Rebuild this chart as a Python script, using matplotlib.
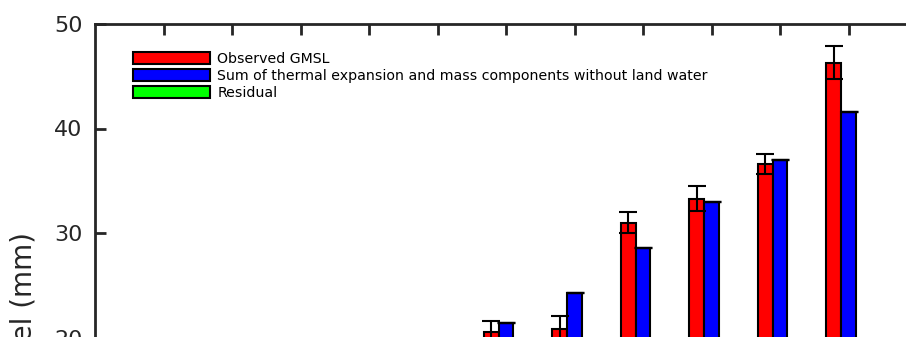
import matplotlib
matplotlib.use("Agg")
import matplotlib.pyplot as plt
import numpy as np

# group positions (only the upper part of the panel is in view)
groups = [6, 7, 8, 9, 10, 11]
obs_gmsl = [20.5, 20.8, 31.0, 33.3, 36.6, 46.3]
obs_err = [1.1, 1.3, 1.0, 1.2, 1.0, 1.6]
sum_comp = [21.4, 24.3, 28.6, 33.0, 37.0, 41.6]
sum_err = [0.05, 0.05, 0.05, 0.05, 0.05, 0.05]
residual = [-0.9, -3.5, 2.4, 0.3, -0.4, 4.7]
tick_pos = list(range(1, 12))

labels = ["Observed GMSL",
          "Sum of thermal expansion and mass components without land water",
          "Residual"]

fig = plt.figure(figsize=(9.06, 3.37), dpi=100)
# axes reaches below the bottom edge of the figure
ax = fig.add_axes([95 / 906, (337 - 651) / 337, 822 / 906, 627 / 337])

x = np.array(groups, dtype=float)
w = 0.215
ekw = dict(ecolor="black", elinewidth=1.5, capthick=1.5)
b1 = ax.bar(x - w, obs_gmsl, w, yerr=obs_err, color="#ff0000",
            edgecolor="black", linewidth=1.5, capsize=6.5, error_kw=ekw,
            label=labels[0])
b2 = ax.bar(x, sum_comp, w, yerr=sum_err, color="#0000ff",
            edgecolor="black", linewidth=1.5, capsize=6.5,
            error_kw=dict(ecolor="black", elinewidth=1, capthick=1),
            label=labels[1])
b3 = ax.bar(x + w, residual, w, color="#00ff00", edgecolor="black",
            linewidth=1.5, label=labels[2])

ax.set_xlim(0, 12)
ax.set_ylim(-10, 50)
ax.set_xticks(tick_pos)
ax.set_yticks([-10, 0, 10, 20, 30, 40, 50])
ax.tick_params(direction="in", top=True, right=True, length=8, width=2,
               labelsize=16, pad=9, colors="#262626")
ax.tick_params(axis="x", labelbottom=False)
for s in ax.spines.values():
    s.set_linewidth(2)
    s.set_color("#262626")

ax.set_ylabel("Sea level (mm)", fontsize=20, color="#262626")
ax.yaxis.set_label_coords((38 - 95) / 822, 0.5)

ax.legend(loc="upper left", bbox_to_anchor=(133 / 906, 1 - 52 / 337),
          bbox_transform=fig.transFigure, frameon=False, fontsize=10.2,
          borderpad=0, borderaxespad=0, handlelength=5.4, handleheight=0.95,
          handletextpad=0.55, labelspacing=0.2)

fig.savefig("out.png", dpi=100)
